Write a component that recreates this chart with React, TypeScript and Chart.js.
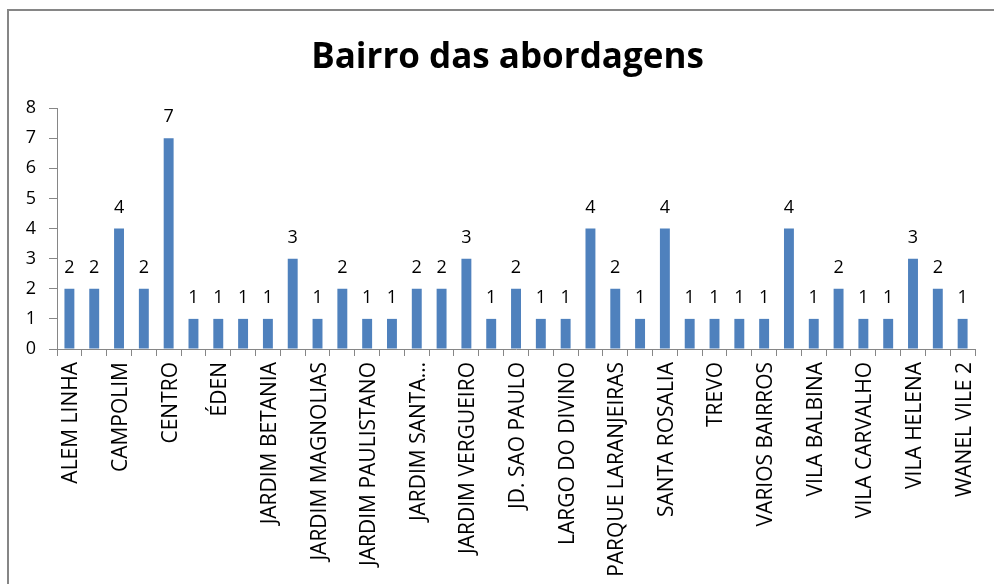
import React, { useEffect, useRef } from "react";
import { Chart, registerables } from "chart.js";

Chart.register(...registerables);

const TITLE = "Bairro das abordagens";

const categories: string[] = [
  "ALEM LINHA", "BOA VISTA", "CAMPOLIM", "CAPUAVA", "CENTRO", "CERRADO", "ÉDEN",
  "HABITETO", "JARDIM BETANIA", "JARDIM GONÇALVES", "JARDIM MAGNOLIAS",
  "JARDIM NOVO MUNDO", "JARDIM PAULISTANO", "JARDIM SANDRA", "JARDIM SANTA…",
  "JARDIM SIMUS", "JARDIM VERGUEIRO", "JD. ITANGUÁ", "JD. SAO PAULO",
  "JULIO DE MESQUITA", "LARGO DO DIVINO", "MANGAL", "PARQUE LARANJEIRAS",
  "PARQUE SÃO BENTO", "SANTA ROSALIA", "SÃO GUILHERME", "TREVO", "VALE DO SOL",
  "VARIOS BAIRROS", "VILA ANGÉLICA", "VILA BALBINA", "VILA BARCELONA",
  "VILA CARVALHO", "VILA FIORI", "VILA HELENA", "VILA LUCY", "WANEL VILE 2",
];

const values: number[] = [
  2, 2, 4, 2, 7, 1, 1, 1, 1, 3, 1, 2, 1, 1, 2, 2, 3,
  1, 2, 1, 1, 4, 2, 1, 4, 1, 1, 1, 1, 4, 1, 2, 1, 1, 3, 2, 1,
];

const yTicks: number[] = [0, 1, 2, 3, 4, 5, 6, 7, 8];

const FONT = "'Open Sans', 'DejaVu Sans', sans-serif";
const AXIS_GRAY = "#868686";
const BAR_BLUE = "#4F81BD";

export default function App() {
  const canvasRef = useRef<HTMLCanvasElement | null>(null);

  useEffect(() => {
    const canvas = canvasRef.current;
    if (!canvas) return;

    const titlePlugin = {
      id: "customTitle",
      afterDraw(chart: any) {
        const ctx = chart.ctx;
        ctx.save();
        ctx.font = `bold 35px ${FONT}`;
        ctx.fillStyle = "#000";
        ctx.textAlign = "center";
        ctx.textBaseline = "alphabetic";
        ctx.fillText(TITLE, 507.5, 67.5);
        ctx.restore();
      },
    };

    const dataLabelPlugin = {
      id: "dataLabels",
      afterDatasetsDraw(chart: any) {
        const ctx = chart.ctx;
        const meta = chart.getDatasetMeta(0);
        ctx.save();
        ctx.font = `18px ${FONT}`;
        ctx.fillStyle = "#000";
        ctx.textAlign = "center";
        ctx.textBaseline = "alphabetic";
        meta.data.forEach((bar: any, i: number) => {
          ctx.fillText(String(values[i]), bar.x, bar.y - 16);
        });
        ctx.restore();
      },
    };

    const chart = new Chart(canvas, {
      type: "bar",
      data: {
        labels: categories,
        datasets: [
          {
            data: values,
            backgroundColor: BAR_BLUE,
            borderWidth: 0,
            barPercentage: 0.8,
            categoryPercentage: 0.5,
          },
        ],
      },
      options: {
        responsive: false,
        animation: false,
        events: [],
        layout: { padding: { top: 108, right: 13, left: 0, bottom: 0 } },
        plugins: {
          legend: { display: false },
          title: { display: false },
          tooltip: { enabled: false },
        },
        scales: {
          x: {
            offset: true,
            grid: {
              offset: true,
              drawOnChartArea: false,
              drawTicks: true,
              tickLength: 7,
              color: AXIS_GRAY,
            },
            border: { color: AXIS_GRAY, width: 1 },
            ticks: {
              autoSkip: false,
              minRotation: 90,
              maxRotation: 90,
              padding: 6,
              labelOffset: 2,
              color: "#000",
              font: { family: FONT, size: 21 },
              callback: (_v: any, i: number) => (i % 2 === 0 ? categories[i] : ""),
            },
            afterFit: (scale: any) => {
              scale.height = 235;
            },
          },
          y: {
            min: 0,
            max: 8,
            afterBuildTicks: (scale: any) => {
              scale.ticks = yTicks.map((v) => ({ value: v }));
            },
            grid: {
              drawOnChartArea: false,
              drawTicks: true,
              tickLength: 8,
              color: AXIS_GRAY,
            },
            border: { color: AXIS_GRAY, width: 1 },
            ticks: {
              padding: 13,
              color: "#000",
              font: { family: FONT, size: 18 },
            },
            afterFit: (scale: any) => {
              scale.width = 57;
            },
          },
        },
      },
      plugins: [titlePlugin, dataLabelPlugin],
    });

    return () => chart.destroy();
  }, []);

  return (
    <div
      style={{
        position: "absolute",
        left: 0,
        top: 0,
        width: 994,
        height: 584,
        overflow: "hidden",
        background: "#fff",
      }}
    >
      <div
        style={{
          position: "absolute",
          left: 7,
          top: 9,
          width: 1020,
          height: 700,
          border: `2px solid ${AXIS_GRAY}`,
          boxSizing: "border-box",
        }}
      />
      <canvas
        ref={canvasRef}
        width={994}
        height={584}
        style={{ position: "absolute", left: 0, top: 0, width: 994, height: 584 }}
      />
    </div>
  );
}
